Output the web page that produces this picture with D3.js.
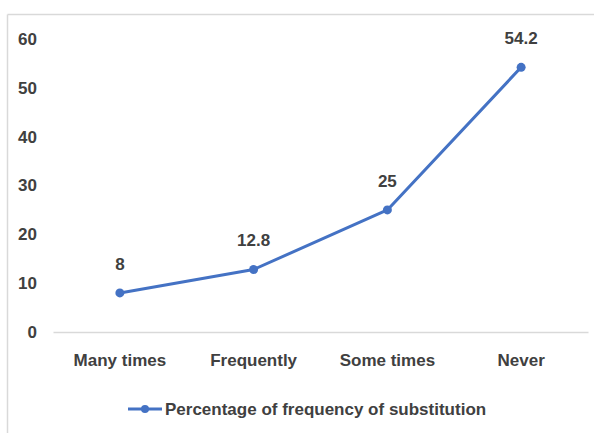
<!DOCTYPE html>
<html>
<head>
<meta charset="utf-8">
<script src="https://cdn.jsdelivr.net/npm/d3@7"></script>
<style>
  html, body { margin: 0; padding: 0; background: #fff; }
  svg { display: block; }
  text { font-family: "Liberation Sans", Arial, sans-serif; font-weight: bold; fill: #404040; }
</style>
</head>
<body>
<svg id="chart" width="594" height="433"></svg>
<script>
const categories = ["Many times", "Frequently", "Some times", "Never"];
const values = [8, 12.8, 25, 54.2];
const yTicks = [0, 10, 20, 30, 40, 50, 60];
const seriesName = "Percentage of frequency of substitution";

const W = 594, H = 433;
const svg = d3.select("#chart");
const lineColor = "#4472C4";
const fontSize = 17;

// frame around the chart area
svg.append("line").attr("x1", 7.5).attr("x2", W).attr("y1", 14.5).attr("y2", 14.5)
  .attr("stroke", "#d9d9d9").attr("stroke-width", 1.5);
svg.append("line").attr("x1", 7.5).attr("x2", 7.5).attr("y1", 14.5).attr("y2", H)
  .attr("stroke", "#d9d9d9").attr("stroke-width", 1.5);

const x = d3.scaleBand().domain(categories).range([53, 588]);
const y = d3.scaleLinear().domain([0, 60]).range([332, 39]);

const styleText = sel => sel.attr("font-size", fontSize).attr("fill", "#404040")
  .attr("font-family", "Liberation Sans, Arial, sans-serif").attr("font-weight", "bold");

// y axis labels
const yAxis = d3.axisLeft(y).tickValues(yTicks).tickSize(0).tickPadding(0);
const yg = svg.append("g").attr("transform", "translate(37,0)").call(yAxis);
yg.select(".domain").remove();
yg.selectAll("text").call(styleText);

// x axis baseline and category labels
const xAxis = d3.axisBottom(x).tickSize(0).tickPadding(22);
const xg = svg.append("g").attr("transform", `translate(0,${y(0)})`).call(xAxis);
xg.select(".domain").attr("stroke", "#d9d9d9").attr("stroke-width", 1.5);
xg.selectAll("text").call(styleText);

const cx = d => x(d) + x.bandwidth() / 2;

// series line
const line = d3.line().x((d, i) => cx(categories[i])).y(d => y(d));
svg.append("path").datum(values).attr("d", line)
  .attr("fill", "none").attr("stroke", lineColor).attr("stroke-width", 3)
  .attr("stroke-linejoin", "round");

svg.selectAll("circle.pt").data(values).enter().append("circle")
  .attr("class", "pt")
  .attr("cx", (d, i) => cx(categories[i])).attr("cy", d => y(d))
  .attr("r", 4.5).attr("fill", lineColor);

// data labels
svg.selectAll("text.lbl").data(values).enter().append("text")
  .attr("class", "lbl")
  .attr("x", (d, i) => cx(categories[i])).attr("y", d => y(d) - 23)
  .attr("text-anchor", "middle")
  .call(styleText)
  .text(d => d);

// legend
const lg = svg.append("g").attr("transform", "translate(128,409)");
lg.append("line").attr("x1", 0).attr("x2", 34).attr("y1", 0).attr("y2", 0)
  .attr("stroke", lineColor).attr("stroke-width", 3);
lg.append("circle").attr("cx", 17).attr("cy", 0).attr("r", 4).attr("fill", lineColor);
lg.append("text").attr("x", 37).attr("y", 6).call(styleText).text(seriesName);
</script>
</body>
</html>
